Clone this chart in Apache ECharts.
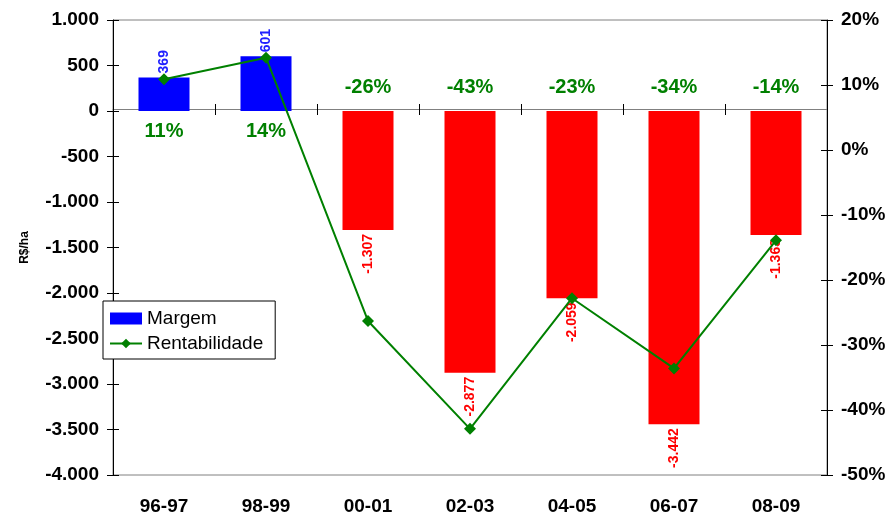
<!DOCTYPE html>
<html>
<head>
<meta charset="utf-8">
<script src="https://cdn.jsdelivr.net/npm/echarts@6/dist/echarts.min.js"></script>
<style>
  html, body { margin: 0; padding: 0; background: #fff; }
  #main { width: 893px; height: 516px; }
</style>
</head>
<body>
<div id="main"></div>
<script>
// dados
var safras = ['96-97', '98-99', '00-01', '02-03', '04-05', '06-07', '08-09'];
var margem = [369, 601, -1307, -2877, -2059, -3442, -1363];          // R$/ha
var rentabilidade = [10.9, 14.2, -26.3, -42.9, -22.8, -33.6, -13.9]; // %

var verde = '#008000';
var fonte = 'Arial, "Liberation Sans", sans-serif';

// 1307 -> "1.307"
function milhar(v) {
  var s = Math.abs(Math.round(v)).toString().replace(/\B(?=(\d{3})+(?!\d))/g, '.');
  return (v < 0 ? '-' : '') + s;
}
function pct(i) {
  return Math.round(rentabilidade[i]) + '%';
}

var barras = margem.map(function (v) {
  var neg = v < 0;
  return {
    value: v,
    itemStyle: { color: neg ? '#ff0000' : '#0000ff' },
    label: {
      position: neg ? 'bottom' : 'top',
      align: neg ? 'right' : 'left',
      color: neg ? '#ff0000' : '#2020ff'
    }
  };
});

// grid: topo 20, base 476 -> zero do eixo esquerdo em y=110
var zeroDoTopo = 90, zeroDaBase = 366;

var chart = echarts.init(document.getElementById('main'));
chart.setOption({
  backgroundColor: '#fff',
  animation: false,
  textStyle: { fontFamily: fonte },
  grid: {
    left: 113, right: 66, top: 20, bottom: 40,
    show: true, borderColor: '#808080', borderWidth: 1
  },
  legend: {
    orient: 'vertical',
    left: 103, top: 301,
    data: [{ name: 'Margem', icon: 'rect' }, 'Rentabilidade'],
    backgroundColor: '#fff',
    borderColor: '#000', borderWidth: 1,
    padding: [8, 12, 6, 6],
    itemWidth: 32, itemHeight: 12, itemGap: 6,
    textStyle: { fontSize: 19, color: '#000', fontFamily: fonte }
  },
  xAxis: [
    {
      // linha do zero, rótulos positivos embaixo
      type: 'category', data: safras, position: 'bottom', offset: -zeroDaBase,
      axisLine: { onZero: false, lineStyle: { color: '#808080', width: 1 } },
      axisTick: { show: true, length: 6, lineStyle: { color: '#000' } },
      axisLabel: {
        margin: 12, color: verde, fontSize: 20, fontWeight: 'bold',
        formatter: function (v, i) { return rentabilidade[i] >= 0 ? pct(i) : ''; }
      }
    },
    {
      // rótulos negativos acima do zero
      type: 'category', data: safras, position: 'top', offset: -zeroDoTopo,
      axisLine: { show: false, onZero: false },
      axisTick: { show: true, length: 6, lineStyle: { color: '#000' } },
      axisLabel: {
        margin: 13, color: verde, fontSize: 20, fontWeight: 'bold',
        formatter: function (v, i) { return rentabilidade[i] < 0 ? pct(i) : ''; }
      }
    },
    {
      type: 'category', data: safras, position: 'bottom',
      axisLine: { show: false, onZero: false },
      axisTick: { show: false },
      axisLabel: { margin: 22, color: '#000', fontSize: 19, fontWeight: 'bold' }
    }
  ],
  yAxis: [
    {
      type: 'value', min: -4000, max: 1000, interval: 500, position: 'left',
      name: 'R$/ha', nameLocation: 'middle', nameGap: 82,
      nameTextStyle: { fontSize: 12, fontWeight: 'bold', color: '#000' },
      axisLine: { show: true, onZero: false, lineStyle: { color: '#000' } },
      axisTick: { show: true, length: 6, lineStyle: { color: '#000' } },
      splitLine: { show: false },
      axisLabel: { margin: 14, color: '#000', fontSize: 19, fontWeight: 'bold', formatter: milhar }
    },
    {
      type: 'value', min: -50, max: 20, interval: 10, position: 'right',
      axisLine: { show: true, onZero: false, lineStyle: { color: '#000' } },
      axisTick: { show: true, length: 6, lineStyle: { color: '#000' } },
      splitLine: { show: false },
      axisLabel: { margin: 14, color: '#000', fontSize: 19, fontWeight: 'bold', formatter: '{value}%' }
    },
    {
      // marcas internas (cruzando o eixo esquerdo)
      type: 'value', min: -4000, max: 1000, interval: 500, position: 'left',
      axisLine: { show: false, onZero: false },
      axisTick: { show: true, inside: true, length: 6, lineStyle: { color: '#000' } },
      axisLabel: { show: false },
      splitLine: { show: false }
    },
    {
      // marcas internas (cruzando o eixo direito)
      type: 'value', min: -50, max: 20, interval: 10, position: 'right',
      axisLine: { show: false, onZero: false },
      axisTick: { show: true, inside: true, length: 6, lineStyle: { color: '#000' } },
      axisLabel: { show: false },
      splitLine: { show: false }
    }
  ],
  series: [
    {
      name: 'Margem', type: 'bar', xAxisIndex: 0, yAxisIndex: 0,
      barWidth: 51, color: '#0000ff',
      label: {
        show: true, rotate: 90, distance: 4, verticalAlign: 'middle',
        fontSize: 14, fontWeight: 'bold',
        formatter: function (p) { return milhar(p.value); }
      },
      data: barras
    },
    {
      name: 'Rentabilidade', type: 'line', xAxisIndex: 0, yAxisIndex: 1,
      color: verde, symbol: 'diamond', symbolSize: 12,
      lineStyle: { width: 2, color: verde },
      itemStyle: { color: verde },
      z: 5,
      data: rentabilidade
    }
  ]
});
</script>
</body>
</html>
